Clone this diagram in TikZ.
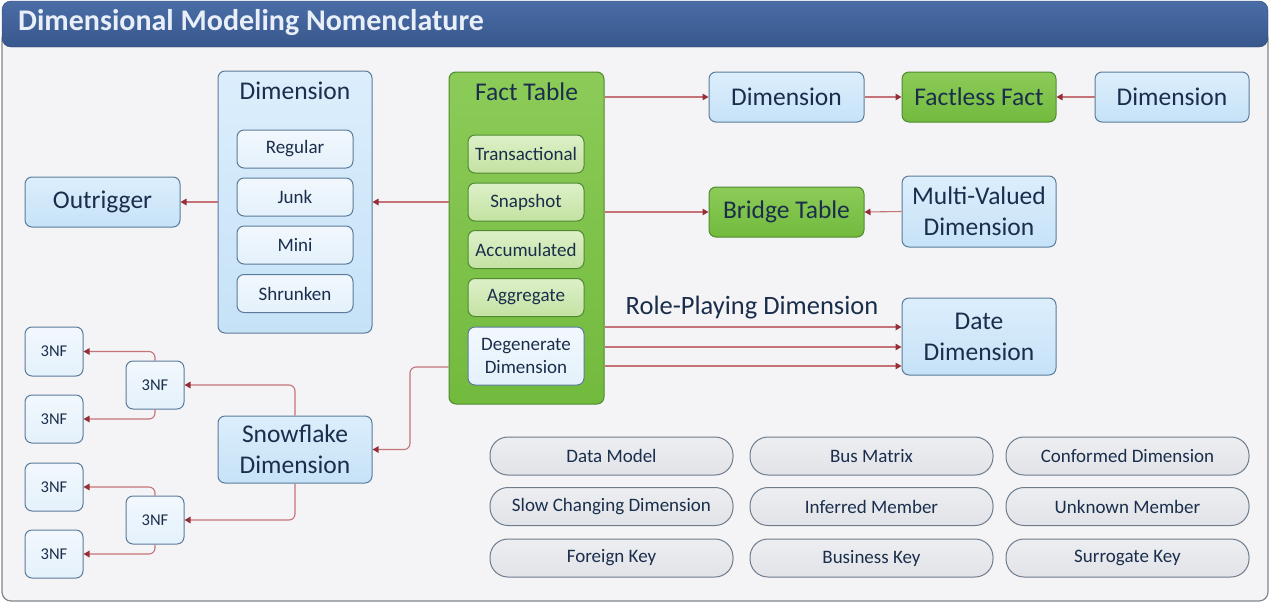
\documentclass[tikz,border=0pt]{standalone}
\usepackage{fontspec}
\setmainfont{Carlito}
\usetikzlibrary{arrows.meta,calc}
\definecolor{txt}{HTML}{1A2E4C}
\definecolor{bluefill}{HTML}{C6E2F7}
\definecolor{bluetop}{HTML}{DCEEFC}
\definecolor{bluebord}{HTML}{5B7B9B}
\definecolor{subfill}{HTML}{E4F1FB}
\definecolor{subtop}{HTML}{F2F8FD}
\definecolor{greenfill}{HTML}{72BA3E}
\definecolor{greentop}{HTML}{8CCB58}
\definecolor{greenbord}{HTML}{4F8A30}
\definecolor{greensub}{HTML}{C4E2A2}
\definecolor{greensubtop}{HTML}{DDF0C8}
\definecolor{pillfill}{HTML}{E1E3E8}
\definecolor{pilltop}{HTML}{ECEEF1}
\definecolor{pillbord}{HTML}{6E7C8C}
\definecolor{linec}{HTML}{C47478}
\definecolor{tipc}{HTML}{962E38}
\definecolor{barfill}{HTML}{38578C}
\definecolor{bartop}{HTML}{4A6DA6}
\definecolor{bartext}{HTML}{E8EFF8}
\definecolor{bgfill}{HTML}{F4F4F6}
\definecolor{framec}{HTML}{80868C}
\tikzset{
  box/.style={rounded corners=7pt, line width=1pt, align=center, inner sep=0pt, text=txt},
  bluebox/.style={box, draw=bluebord, top color=bluetop, bottom color=bluefill},
  subbox/.style={box, draw=bluebord, top color=subtop, bottom color=subfill},
  greenbox/.style={box, draw=greenbord, top color=greentop, bottom color=greenfill},
  gsubbox/.style={box, draw=greenbord, top color=greensubtop, bottom color=greensub},
  pill/.style={box, draw=pillbord, top color=pilltop, bottom color=pillfill, rounded corners=18pt, minimum width=243pt, minimum height=38pt, font=\fontsize{19}{22}\selectfont},
  big/.style={font=\fontsize{25.5}{31}\selectfont, text=txt, align=center},
  med/.style={font=\fontsize{19}{23}\selectfont},
  small/.style={font=\fontsize{16.5}{19}\selectfont},
  conn/.style={draw=linec, line width=1.1pt, rounded corners=6pt, -{Triangle[length=6pt,width=6.5pt,color=tipc]}},
}
\begin{document}
\begin{tikzpicture}[x=1pt,y=-1pt]
\useasboundingbox (0,0) rectangle (1271,603);
\fill[white] (0,0) rectangle (1271,603);
% frame and title bar
\draw[framec, fill=bgfill, line width=1.2pt, rounded corners=9pt] (2,30) rectangle (1268,601);
\shade[top color=bartop, bottom color=barfill, rounded corners=9pt, draw=barfill!80!black] (2,1) rectangle (1268,47);
\node[anchor=west, text=bartext, font=\bfseries\fontsize{30}{34}\selectfont, inner sep=0pt] (title) at (18,23) {Dimensional Modeling Nomenclature};

% Dimension container
\node[bluebox, minimum width=154pt, minimum height=262pt] (dimc) at (295,202) {};
\node[big] (dimt) at (295,91) {Dimension};
\node[subbox, med, minimum width=116pt, minimum height=38pt] (reg) at (295,149) {Regular};
\node[subbox, med, minimum width=116pt, minimum height=38pt] (junk) at (295,197) {Junk};
\node[subbox, med, minimum width=116pt, minimum height=38pt] (mini) at (295,245) {Mini};
\node[subbox, med, minimum width=116pt, minimum height=38pt] (shr) at (295,293.5) {Shrunken};

\node[bluebox, big, minimum width=155pt, minimum height=50pt] (out) at (102.5,202) {Outrigger};

% Fact table container
\node[greenbox, minimum width=155pt, minimum height=332pt] (fact) at (526.5,238) {};
\node[big] (factt) at (526.5,92) {Fact Table};
\node[gsubbox, med, minimum width=116pt, minimum height=38pt] (trans) at (526,154) {Transactional};
\node[gsubbox, med, minimum width=116pt, minimum height=38pt] (snap) at (526,202) {Snapshot};
\node[gsubbox, med, minimum width=116pt, minimum height=38pt] (accu) at (526,249.5) {Accumulated};
\node[gsubbox, med, minimum width=116pt, minimum height=38pt] (aggr) at (526,297.5) {Aggregate};
\node[subbox, med, minimum width=116pt, minimum height=58pt] (deg) at (526,356) {Degenerate\\Dimension};

% right side
\node[bluebox, big, minimum width=155pt, minimum height=50pt] (dimb) at (786.5,97) {Dimension};
\node[greenbox, big, minimum width=154pt, minimum height=50pt] (fless) at (979,97) {Factless Fact};
\node[bluebox, big, minimum width=154pt, minimum height=50pt] (dimr) at (1172,97) {Dimension};
\node[greenbox, big, minimum width=155pt, minimum height=50pt] (bridge) at (786.5,212) {Bridge Table};
\node[bluebox, big, minimum width=154pt, minimum height=71pt] (multi) at (979,211.5) {Multi-Valued\\Dimension};
\node[bluebox, big, minimum width=154pt, minimum height=77pt] (date) at (979,336.5) {Date\\Dimension};
\node[big, inner sep=0pt, font=\fontsize{26.5}{31}\selectfont] (role) at (752,308) {Role-Playing Dimension};

% snowflake
\node[bluebox, big, minimum width=154pt, minimum height=67pt] (snow) at (295,449.5) {Snowflake\\Dimension};
\node[subbox, small, minimum width=58pt, minimum height=48pt] (m1) at (155,385) {3NF};
\node[subbox, small, minimum width=58pt, minimum height=48pt] (m2) at (155,520) {3NF};
\node[subbox, small, minimum width=58pt, minimum height=49pt] (l1) at (54,351.5) {3NF};
\node[subbox, small, minimum width=58pt, minimum height=48pt] (l2) at (54,419) {3NF};
\node[subbox, small, minimum width=58pt, minimum height=48pt] (l3) at (54,487) {3NF};
\node[subbox, small, minimum width=58pt, minimum height=48pt] (l4) at (54,554) {3NF};

% pills
\node[pill] (p1) at (611.5,456) {Data Model};
\node[pill] (p2) at (871.5,456) {Bus Matrix};
\node[pill] (p3) at (1127.5,456) {Conformed Dimension};
\node[pill] (p4) at (611.5,506.5) {Slow Changing Dimension};
\node[pill] (p5) at (871.5,506.5) {Inferred Member};
\node[pill] (p6) at (1127.5,506.5) {Unknown Member};
\node[pill] (p7) at (611.5,558) {Foreign Key};
\node[pill] (p8) at (871.5,558) {Business Key};
\node[pill] (p9) at (1127.5,558) {Surrogate Key};

% connectors
\coordinate (ra) at (0,327);
\coordinate (rb) at (0,347);
\coordinate (rc) at (0,366);
\coordinate (fs) at (410,367);
\draw[conn] (fact.east |- dimb.west) -- (dimb.west);
\draw[conn] (dimb.east) -- (fless.west);
\draw[conn] (dimr.west) -- (fless.east);
\draw[conn] (fact.east |- bridge.west) -- (bridge.west);
\draw[conn] (multi.west) -- (bridge.east);
\draw[conn] (fact.west |- out.east) -- (dimc.east |- out.east);
\draw[conn] (dimc.west |- out.east) -- (out.east);
\draw[conn] (fact.east |- ra) -- (date.west |- ra);
\draw[conn] (fact.east |- rb) -- (date.west |- rb);
\draw[conn] (fact.east |- rc) -- (date.west |- rc);
\draw[conn] (fact.west |- fs) -- (fs) |- (snow.east);
\draw[conn] (snow.north) |- (m1.east);
\draw[conn] (snow.south) |- (m2.east);
\draw[conn] (m1.north) |- (l1.east);
\draw[conn] (m1.south) |- (l2.east);
\draw[conn] (m2.north) |- (l3.east);
\draw[conn] (m2.south) |- (l4.east);
\end{tikzpicture}
\end{document}
